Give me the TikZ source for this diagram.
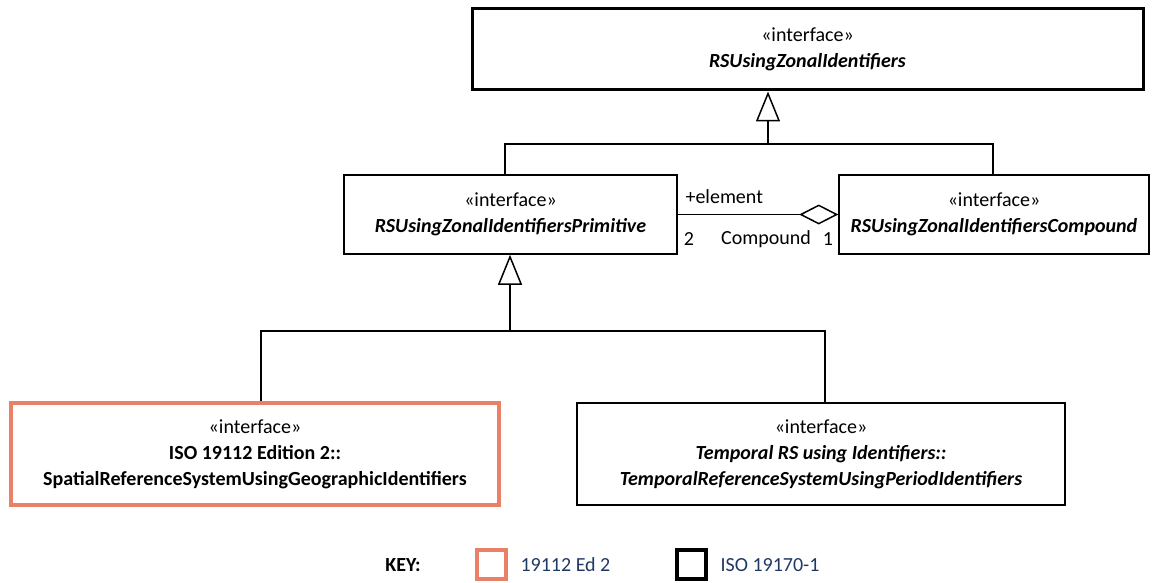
\documentclass[tikz,border=0pt]{standalone}
\usepackage{fontspec}
\setmainfont{Carlito}
\usetikzlibrary{arrows.meta}
\definecolor{edtwo}{RGB}{234,128,104}
\definecolor{keyblue}{RGB}{31,56,100}
\begin{document}
\begin{tikzpicture}[x=1pt,y=-1pt,
  txt/.style={font=\fontsize{20}{26}\selectfont},
  cls/.style={txt, draw, line width=1.5pt, align=center, inner sep=0pt},
  gen/.style={line width=1.5pt, -{Triangle[open, length=30pt, width=24pt, line width=1.5pt]}},
  conn/.style={line width=1.5pt},
  agg/.style={line width=1.5pt, -{Diamond[open, length=39pt, width=20pt, line width=1.5pt]}},
  keybox/.style={line width=4pt, minimum size=29pt, inner sep=0pt},
  keytxt/.style={txt, text=keyblue, anchor=west}
]
\useasboundingbox (0,0) rectangle (1153,583);

% classes
\node[cls, line width=3pt, minimum width=671pt, minimum height=81pt] (top) at (807.5,49.5)
  {«interface»\\\textbf{\textit{RSUsingZonalIdentifiers}}};
\node[cls, minimum width=333pt, minimum height=79pt] (prim) at (510.5,214.5)
  {«interface»\\\textbf{\textit{RSUsingZonalIdentifiersPrimitive}}};
\node[cls, minimum width=310pt, minimum height=79pt] (comp) at (994,214.5)
  {«interface»\\\textbf{\textit{RSUsingZonalIdentifiersCompound}}};
\node[cls, draw=edtwo, line width=3.5pt, minimum width=488pt, minimum height=102pt] (spat) at (255,454)
  {«interface»\\\textbf{ISO 19112 Edition 2::}\\\textbf{SpatialReferenceSystemUsingGeographicIdentifiers}};
\node[cls, minimum width=488pt, minimum height=102pt] (temp) at (821,454)
  {«interface»\\\textbf{\textit{Temporal RS using Identifiers::}}\\\textbf{\textit{TemporalReferenceSystemUsingPeriodIdentifiers}}};

% generalization into RSUsingZonalIdentifiers
\coordinate (t1) at (768,144);
\coordinate (tl) at (505,144);
\coordinate (tr) at (993,144);
\draw[gen] (t1) -- (t1 |- top.south);
\draw[conn] (tl |- prim.north) -- (tl) -- (tr) -- (tr |- comp.north);

% generalization into RSUsingZonalIdentifiersPrimitive
\coordinate (p1) at (510,331);
\coordinate (pl) at (261,331);
\coordinate (pr) at (825,331);
\draw[gen] (p1) -- (p1 |- prim.south);
\draw[conn] (pl |- spat.north) -- (pl) -- (pr) -- (pr |- temp.north);

% aggregation
\draw[agg] (prim.east) -- (comp.west);
\node[txt, anchor=west] (role) at (682,197) {+element};
\node[txt] (m2) at (689,239) {2};
\node[txt] (aname) at (766,239) {Compound};
\node[txt] (m1) at (828,239) {1};

% key
\node[txt, font=\fontsize{20}{26}\selectfont\bfseries] (key) at (403,565) {KEY:};
\node[keybox, draw=edtwo] (k1) at (491,564) {};
\node[keytxt] (k1t) at (517,565) {19112 Ed 2};
\node[keybox, draw=black] (k2) at (691,564) {};
\node[keytxt] (k2t) at (717,565) {ISO 19170-1};
\end{tikzpicture}
\end{document}
